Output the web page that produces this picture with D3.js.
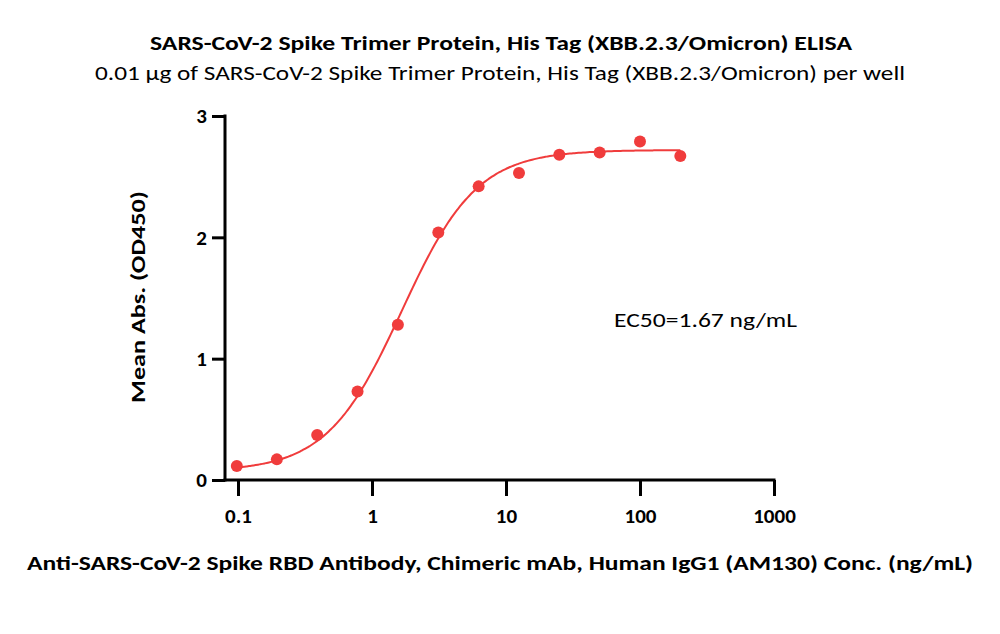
<!DOCTYPE html>
<html><head><meta charset="utf-8">
<script src="https://cdn.jsdelivr.net/npm/d3@7"></script>
<style>body{margin:0;background:#fff}svg{display:block}text{font-family:Carlito,Calibri,Lato,"Open Sans",sans-serif}</style>
</head><body><svg id="c" width="1000" height="634"></svg>
<script>
const concentrations = [0.098, 0.195, 0.39, 0.78, 1.56, 3.125, 6.25, 12.5, 25, 50, 100, 200];
const meanAbs = [0.115, 0.17, 0.37, 0.73, 1.28, 2.04, 2.42, 2.53, 2.68, 2.70, 2.79, 2.67];
const xTicks = [0.1, 1, 10, 100, 1000];
const xTickLabels = ["0.1", "1", "10", "100", "1000"];
const yTicks = [0, 1, 2, 3];
// 4PL fit parameters (bottom, top, EC50, hill)
const fitBottom = 0.07, fitTop = 2.72, fitEC50 = 1.67, fitHill = 1.55;
const title = "SARS-CoV-2 Spike Trimer Protein, His Tag (XBB.2.3/Omicron) ELISA";
const subtitle = "0.01 μg of SARS-CoV-2 Spike Trimer Protein, His Tag (XBB.2.3/Omicron) per well";
const xTitle = "Anti-SARS-CoV-2 Spike RBD Antibody, Chimeric mAb, Human IgG1 (AM130) Conc. (ng/mL)";
const yTitle = "Mean Abs. (OD450)";
const annotation = "EC50=1.67 ng/mL";

const svg = d3.select("#c");
const red = "#f03c3c";
const x = d3.scaleLog().domain([0.1, 1000]).range([238, 774]);
const y = d3.scaleLinear().domain([0, 3]).range([480, 116]);
const axisLeftX = 225;

svg.append("text").attr("x", 501).attr("y", 50).attr("text-anchor", "middle")
  .attr("font-size", 20).attr("font-weight", "bold").attr("textLength", 702).attr("lengthAdjust", "spacingAndGlyphs").text(title);
svg.append("text").attr("x", 500).attr("y", 80).attr("text-anchor", "middle")
  .attr("font-size", 20).attr("textLength", 810).attr("lengthAdjust", "spacingAndGlyphs").text(subtitle);

// X axis
const gx = svg.append("g").attr("transform", "translate(0,480)")
  .call(d3.axisBottom(x).tickValues(xTicks).tickFormat((d,i)=>xTickLabels[i]).tickSize(16).tickPadding(12));
gx.select(".domain").attr("d", `M${axisLeftX - 1.5},0H${x(1000)+1.5}`);
// Y axis
const gy = svg.append("g").attr("transform", `translate(${axisLeftX},0)`)
  .call(d3.axisLeft(y).tickValues(yTicks).tickFormat(d3.format("d")).tickSize(13).tickPadding(5));
gy.select(".domain").attr("d", `M0,${y(3)-1.5}V${y(0)+1.5}`);
[gx, gy].forEach(g => {
  g.selectAll("path,line").attr("stroke", "#000").attr("stroke-width", 3);
  g.selectAll("text").attr("font-size", 21).attr("font-weight", 900).attr("fill", "#000")
    .style("font-family", "Carlito,Calibri,Lato,sans-serif");
});

svg.append("text").attr("transform", "translate(145,297) rotate(-90)").attr("text-anchor", "middle")
  .attr("font-size", 20).attr("font-weight", "bold").attr("textLength", 212).attr("lengthAdjust", "spacingAndGlyphs").text(yTitle);
svg.append("text").attr("x", 500).attr("y", 570).attr("text-anchor", "middle")
  .attr("font-size", 20).attr("font-weight", "bold").attr("textLength", 946).attr("lengthAdjust", "spacingAndGlyphs").text(xTitle);

// fitted curve
const fit = c => fitBottom + (fitTop - fitBottom) / (1 + Math.pow(fitEC50 / c, fitHill));
const curveX = d3.range(0, 201).map(i => Math.pow(10, Math.log10(0.1) + i / 200 * (Math.log10(200) - Math.log10(0.1))));
svg.append("path").datum(curveX)
  .attr("d", d3.line().x(c => x(c)).y(c => y(fit(c))).curve(d3.curveMonotoneX))
  .attr("fill", "none").attr("stroke", red).attr("stroke-width", 2);

svg.selectAll("circle.pt").data(concentrations).join("circle").attr("class", "pt")
  .attr("cx", d => x(d)).attr("cy", (d, i) => y(meanAbs[i])).attr("r", 6).attr("fill", red);

svg.append("text").attr("x", 614).attr("y", 327).attr("font-size", 20)
  .attr("textLength", 183).attr("lengthAdjust", "spacingAndGlyphs").text(annotation);
</script></body></html>
